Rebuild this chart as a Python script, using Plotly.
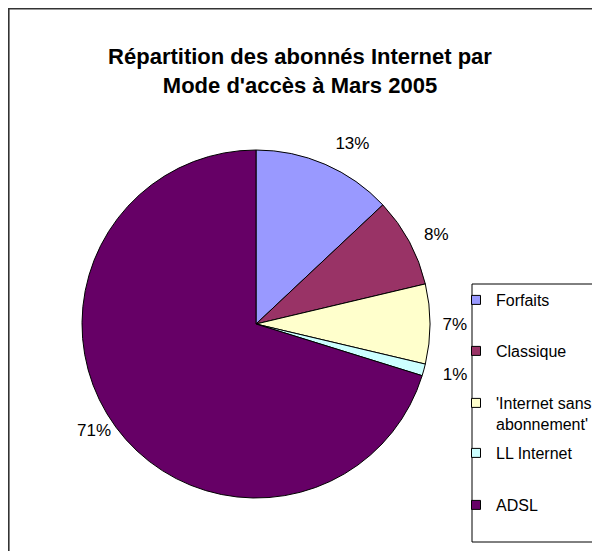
import plotly.graph_objects as go

# Data
labels = ["Forfaits", "Classique", "'Internet sans<br>abonnement'", "LL Internet", "ADSL"]
values = [13.0, 8.3, 7.4, 1.1, 70.2]
pct_labels = ["13%", "8%", "7%", "1%", "71%"]
colors = ["#9999FF", "#993366", "#FFFFCC", "#CCFFFF", "#660066"]

W, H = 600, 551
FONT = "Liberation Sans, Arial, sans-serif"

# pie geometry (pixels in figure)
CX, CY, R = 248, 316, 174
label_pull = [0.08, 0.065, 0.045, 0.085, 0.0]
PMAX = max(label_pull)
RL = R * (1 + PMAX)

fig = go.Figure()

# invisible pie that only carries the percentage labels (pushed further out)
fig.add_trace(go.Pie(
    labels=labels,
    values=values,
    text=pct_labels,
    textinfo="text",
    textposition="outside",
    sort=False,
    direction="clockwise",
    rotation=0,
    pull=label_pull,
    marker=dict(colors=["rgba(0,0,0,0)"] * len(values), line=dict(width=0)),
    outsidetextfont=dict(family=FONT, size=17, color="black"),
    showlegend=False,
    hoverinfo="skip",
    domain=dict(x=[(CX - RL) / W, (CX + RL) / W], y=[1 - (CY + RL) / H, 1 - (CY - RL) / H]),
))

# visible pie
fig.add_trace(go.Pie(
    labels=labels,
    values=values,
    textinfo="none",
    sort=False,
    direction="clockwise",
    rotation=0,
    marker=dict(colors=colors, line=dict(color="black", width=1)),
    showlegend=False,
    domain=dict(x=[(CX - R) / W, (CX + R) / W], y=[1 - (CY + R) / H, 1 - (CY - R) / H]),
))

# legend entries (one legend per entry for Excel-like spacing)
legend_tops = [275, 326, 378, 428, 480]  # pixel tops of legend entries
for i, (lab, col) in enumerate(zip(labels, colors)):
    lname = "legend" if i == 0 else f"legend{i + 1}"
    fig.add_trace(go.Scatter(
        x=[None], y=[None], mode="markers", name=lab,
        marker=dict(symbol="square", size=9, color=col, line=dict(color="black", width=1)),
        legend=lname, showlegend=True,
    ))

layout_legends = {}
for i, yt in enumerate(legend_tops):
    lname = "legend" if i == 0 else f"legend{i + 1}"
    layout_legends[lname] = dict(
        x=448 / W, y=1 - yt / H, xanchor="left", yanchor="top",
        bgcolor="rgba(0,0,0,0)", borderwidth=0,
        font=dict(family=FONT, size=16, color="black"),
        valign="top", itemwidth=30,
    )

fig.update_layout(
    width=W, height=H,
    margin=dict(l=0, r=0, t=0, b=0, autoexpand=False),
    paper_bgcolor="white", plot_bgcolor="white",
    xaxis=dict(visible=False, domain=[0, 1]),
    yaxis=dict(visible=False, domain=[0, 1]),
    title=dict(
        text="<b>Répartition des abonnés Internet par<br>Mode d'accès à Mars 2005</b>",
        x=292 / W, xanchor="center", y=1 - 56 / H, yanchor="top",
        font=dict(family=FONT, size=22, color="black"),
    ),
    shapes=[
        dict(type="rect", xref="paper", yref="paper",
             x0=0.8 / W, x1=1.05, y0=-0.05, y1=1 - 0.8 / H,
             line=dict(color="#333333", width=1.6), fillcolor="rgba(0,0,0,0)", layer="below"),
        dict(type="rect", xref="paper", yref="paper",
             x0=464 / W, x1=1.05, y0=1 - 534 / H, y1=1 - 276 / H,
             line=dict(color="black", width=1), fillcolor="rgba(0,0,0,0)", layer="below"),
    ],
    **layout_legends,
)

fig.write_html("out.html")
